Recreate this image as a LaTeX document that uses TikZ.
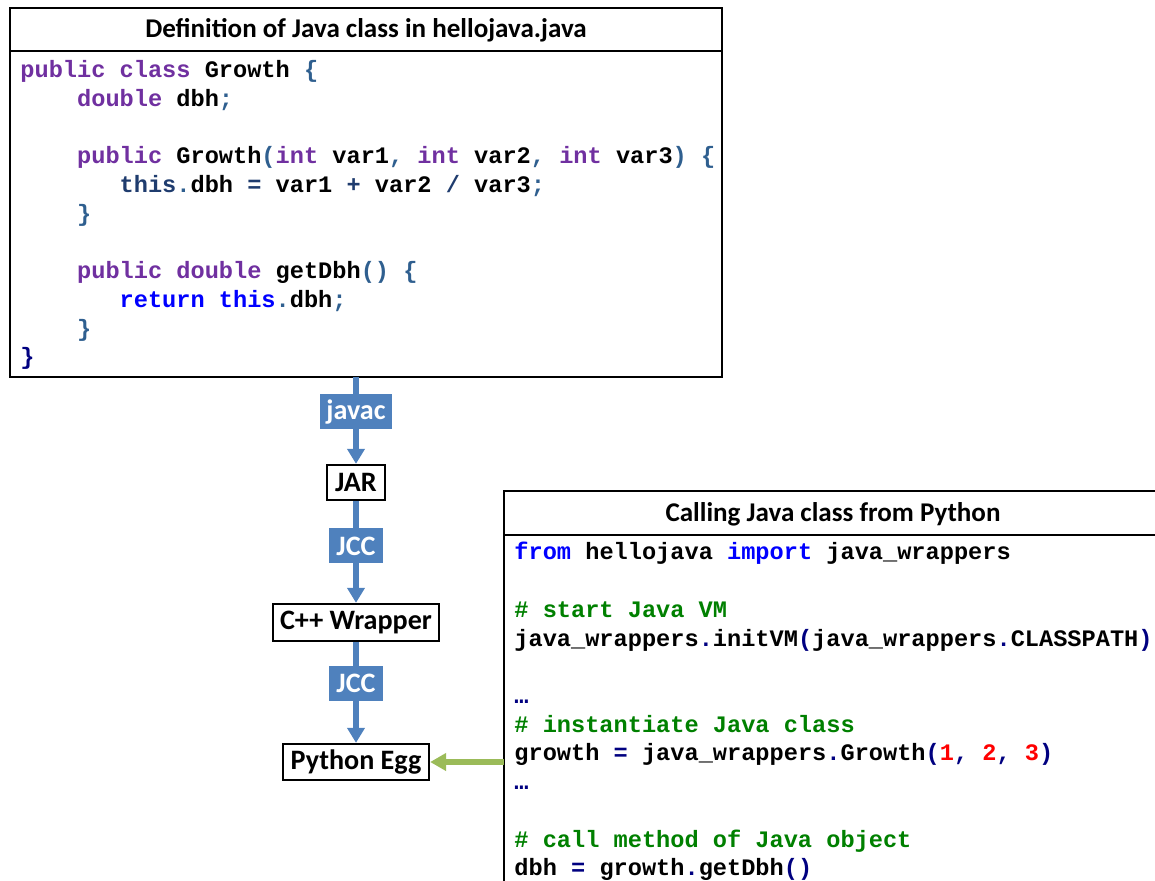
\documentclass[tikz,border=0pt]{standalone}
\usepackage{fontspec}
\setmainfont{Carlito}
\newfontfamily\codefont{Liberation Mono}
\usepackage{xcolor}
\usetikzlibrary{positioning,arrows.meta}

\definecolor{flowblue}{HTML}{4F81BD}
\definecolor{callgreen}{HTML}{9BBB59}
\definecolor{jpurple}{HTML}{7030A0}
\definecolor{jsteel}{HTML}{2F5F8F}
\definecolor{jnavy}{HTML}{1F3C6E}
\definecolor{kwblue}{HTML}{0000FF}
\definecolor{comgreen}{HTML}{008000}
\definecolor{opnavy}{HTML}{000080}
\definecolor{numred}{HTML}{FF0000}

% token colours
\newcommand\jkw[1]{\textcolor{jpurple}{#1}}
\newcommand\jpun[1]{\textcolor{jsteel}{#1}}
\newcommand\jop[1]{\textcolor{jnavy}{#1}}
\newcommand\jret[1]{\textcolor{kwblue}{#1}}
\newcommand\pkw[1]{\textcolor{kwblue}{#1}}
\newcommand\pcom[1]{\textcolor{comgreen}{#1}}
\newcommand\pop[1]{\textcolor{opnavy}{#1}}
\newcommand\pnum[1]{\textcolor{numred}{#1}}
\newcommand\indfour{\phantom{0000}}
\newcommand\indthree{\phantom{000}}

\begin{document}
\begin{tikzpicture}[
    x=0.02cm, y=-0.02cm,
    head/.style={draw, line width=1.3pt, outer sep=0pt, minimum height=0.86cm, font=\fontsize{15.4}{18}\selectfont\bfseries},
    body/.style={draw, line width=1.3pt, outer sep=0pt},
    code/.style={anchor=north west, inner sep=0pt, align=left, font=\codefont\fontsize{13.45}{16.35}\selectfont\bfseries},
    stage/.style={draw, line width=1.3pt, fill=white, inner sep=0pt, font=\fontsize{16}{19}\selectfont\bfseries},
    tool/.style={fill=flowblue, text=white, inner sep=0pt, minimum height=0.7cm, font=\fontsize{16}{19}\selectfont\bfseries},
    flow/.style={draw=flowblue, line width=3.4pt, -{Triangle[width=0.34cm, length=0.3cm]}},
    call/.style={draw=callgreen, line width=3pt, -{Triangle[width=0.34cm, length=0.32cm]}},
]
\useasboundingbox (0,0) rectangle (1155,881);
\clip (0,0) rectangle (1155,881);

% Java source box
\node[head, minimum width=14.24cm, text depth=0pt, text height=0.33cm] (defhead) at (366,29.5) {Definition of Java class in hellojava.java};
\node[body, minimum width=14.24cm, minimum height=6.52cm, below=0pt of defhead] (defbody) {};
\node[code] (defcode) at ([shift={(10,9)}]defbody.north west) {%
\jkw{public class} Growth \jpun{\{}\\
\indfour\jkw{double} dbh\jpun{;}\\
\mbox{}\\
\indfour\jkw{public} Growth\jpun{(}\jkw{int} var1\jpun{,} \jkw{int} var2\jpun{,} \jkw{int} var3\jpun{)} \jpun{\{}\\
\indfour\indthree\jop{this}\jpun{.}dbh \jop{=} var1 \jop{+} var2 \jop{/} var3\jpun{;}\\
\indfour\jpun{\}}\\
\mbox{}\\
\indfour\jkw{public double} getDbh\jpun{()} \jpun{\{}\\
\indfour\indthree\jret{return this}\jpun{.}dbh\jpun{;}\\
\indfour\jpun{\}}\\
\pop{\}}};

% Python caller box
\node[head, minimum width=13.16cm, minimum height=0.88cm, text depth=0pt, text height=0.33cm] (callhead) at (833,513) {Calling Java class from Python};
\node[body, minimum width=13.16cm, minimum height=10cm, below=0pt of callhead] (callbody) {};
\node[code] (callcode) at ([shift={(10,7)}]callbody.north west) {%
\pkw{from} hellojava \pkw{import} java\_wrappers\\
\mbox{}\\
\pcom{\# start Java VM}\\
java\_wrappers\pop{.}initVM\pop{(}java\_wrappers\pop{.}CLASSPATH\pop{)}\\
\mbox{}\\
\pop{…}\\
\pcom{\# instantiate Java class}\\
growth \pop{=} java\_wrappers\pop{.}Growth\pop{(}\pnum{1}\pop{,} \pnum{2}\pop{,} \pnum{3}\pop{)}\\
\pop{…}\\
\mbox{}\\
\pcom{\# call method of Java object}\\
dbh \pop{=} growth\pop{.}getDbh\pop{()}};

% build chain
\node[stage, minimum width=1.16cm, minimum height=0.7cm] (jar) at (356,482.5) {JAR};
\node[stage, minimum width=3.32cm, minimum height=0.74cm] (wrapper) at (356,622.5) {C++ Wrapper};
\node[stage, minimum width=2.92cm, minimum height=0.72cm] (egg) at (356,762) {Python Egg};

\draw[flow] (defbody.south -| jar.north) -- node[tool, minimum width=1.46cm, pos=0.4] (javac) {javac} (jar.north);
\draw[flow] (jar) -- node[tool, minimum width=1.08cm, pos=0.44] (jccone) {JCC} (wrapper);
\draw[flow] (wrapper) -- node[tool, minimum width=1.08cm, pos=0.41] (jcctwo) {JCC} (egg);

\draw[call] (callbody.west |- egg.east) -- (egg.east);

\end{tikzpicture}
\end{document}
